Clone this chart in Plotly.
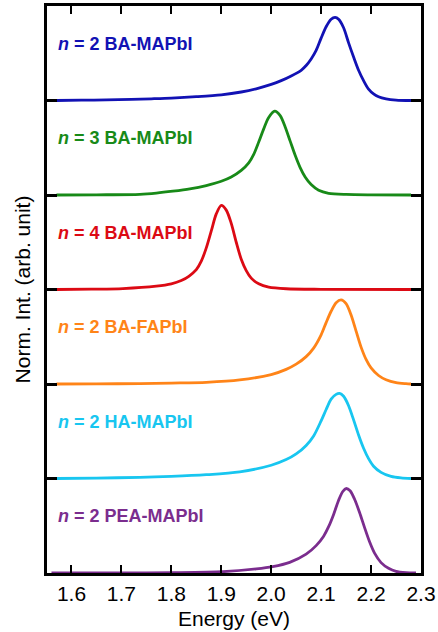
import plotly.graph_objects as go

# ---- data ----
names = ["<b><i>n</i> = 2 BA-MAPbI</b>", "<b><i>n</i> = 3 BA-MAPbI</b>", "<b><i>n</i> = 4 BA-MAPbI</b>",
         "<b><i>n</i> = 2 BA-FAPbI</b>", "<b><i>n</i> = 2 HA-MAPbI</b>", "<b><i>n</i> = 2 PEA-MAPbI</b>"]

blue_x = [1.57, 1.62, 1.67, 1.72, 1.76, 1.80, 1.85, 1.90, 1.94, 1.97, 2.00, 2.02, 2.04, 2.06, 2.07, 2.08,
          2.09, 2.10, 2.11, 2.12, 2.128, 2.135, 2.145, 2.155, 2.165, 2.175, 2.185, 2.195, 2.205, 2.215,
          2.23, 2.25, 2.28]
blue_y = [0.0, 0.003, 0.007, 0.012, 0.018, 0.025, 0.04, 0.06, 0.09, 0.124, 0.17, 0.21, 0.26, 0.32, 0.37, 0.44,
          0.53, 0.66, 0.78, 0.86, 0.88, 0.86, 0.77, 0.61, 0.46, 0.32, 0.21, 0.12, 0.07, 0.04,
          0.018, 0.005, 0.0]

green_x = [1.57, 1.65, 1.737, 1.77, 1.803, 1.837, 1.87, 1.90, 1.92, 1.94, 1.955, 1.965, 1.975, 1.985,
           1.995, 2.007, 2.018, 2.028, 2.038, 2.048, 2.058, 2.068, 2.08, 2.095, 2.115, 2.15, 2.2, 2.28]
green_y = [0.0, 0.002, 0.007, 0.02, 0.04, 0.065, 0.10, 0.145, 0.19, 0.26, 0.34, 0.43, 0.56, 0.70,
           0.82, 0.887, 0.84, 0.72, 0.57, 0.42, 0.29, 0.19, 0.11, 0.05, 0.018, 0.006, 0.002, 0.0]

red_x = [1.57, 1.64, 1.703, 1.77, 1.80, 1.82, 1.835, 1.85, 1.86, 1.87, 1.88, 1.89, 1.90, 1.91, 1.92,
         1.93, 1.94, 1.95, 1.96, 1.975, 1.995, 2.03, 2.1, 2.28]
red_y = [0.0, 0.004, 0.01, 0.035, 0.06, 0.095, 0.14, 0.21, 0.30, 0.44, 0.62, 0.80, 0.89, 0.84, 0.70,
         0.50, 0.32, 0.20, 0.12, 0.06, 0.025, 0.008, 0.002, 0.0]

orange_x = [1.57, 1.65, 1.737, 1.80, 1.87, 1.937, 2.00, 2.03, 2.05, 2.07, 2.085, 2.10, 2.11, 2.12, 2.13,
            2.14, 2.15, 2.16, 2.17, 2.18, 2.19, 2.20, 2.215, 2.23, 2.25, 2.27, 2.28]
orange_y = [0.0, 0.002, 0.004, 0.01, 0.018, 0.043, 0.10, 0.155, 0.21, 0.29, 0.38, 0.52, 0.65, 0.77, 0.86,
            0.89, 0.85, 0.73, 0.56, 0.39, 0.26, 0.17, 0.09, 0.045, 0.014, 0.003, 0.0]

cyan_x = [1.57, 1.65, 1.737, 1.80, 1.87, 1.937, 2.00, 2.03, 2.05, 2.07, 2.085, 2.10, 2.11, 2.12, 2.13,
          2.137, 2.145, 2.155, 2.165, 2.175, 2.185, 2.195, 2.205, 2.22, 2.24, 2.26, 2.28]
cyan_y = [0.0, 0.005, 0.012, 0.022, 0.04, 0.07, 0.14, 0.20, 0.26, 0.35, 0.45, 0.61, 0.73, 0.84, 0.89,
          0.90, 0.87, 0.77, 0.62, 0.46, 0.32, 0.21, 0.13, 0.065, 0.022, 0.006, 0.0]

purple_x = [1.56, 1.70, 1.803, 1.903, 1.97, 2.003, 2.037, 2.07, 2.09, 2.105, 2.115, 2.125, 2.135, 2.143,
            2.15, 2.158, 2.167, 2.177, 2.187, 2.197, 2.207, 2.22, 2.235, 2.25, 2.27, 2.29]
purple_y = [0.0, 0.001, 0.004, 0.014, 0.043, 0.067, 0.113, 0.20, 0.29, 0.39, 0.49, 0.62, 0.77, 0.86,
            0.894, 0.87, 0.78, 0.64, 0.48, 0.33, 0.21, 0.11, 0.05, 0.018, 0.004, 0.0]

xs = [blue_x, green_x, red_x, orange_x, cyan_x, purple_x]
ys = [blue_y, green_y, red_y, orange_y, cyan_y, purple_y]
offsets = [5, 4, 3, 2, 1, 0]
colors = ["#1212B4", "#188A18", "#DC0A14", "#FF8418", "#18C6F0", "#7B2D8E"]

x_ticks = [1.6, 1.7, 1.8, 1.9, 2.0, 2.1, 2.2, 2.3]
x_ticktext = ["1.6", "1.7", "1.8", "1.9", "2.0", "2.1", "2.2", "2.3"]

FONT = "Liberation Sans, Arial, sans-serif"

fig = go.Figure()
for x, y, off, c in zip(xs, ys, offsets, colors):
    fig.add_trace(go.Scatter(x=x, y=[v + off for v in y], mode="lines",
                             line=dict(color=c, width=2.8, shape="spline", smoothing=0.8),
                             showlegend=False, hoverinfo="skip"))

for name, off, c in zip(names, offsets, colors):
    fig.add_annotation(x=1.57, y=off + 0.6, xref="x", yref="y", text=name, showarrow=False,
                       xanchor="left", yanchor="middle",
                       font=dict(family=FONT, size=18, color=c))

fig.update_xaxes(range=[1.551, 2.30], tickvals=x_ticks, ticktext=x_ticktext,
                 ticks="inside", ticklen=8, tickwidth=2, tickcolor="black",
                 showline=True, linecolor="black", linewidth=2.5, mirror="ticks",
                 showgrid=False, zeroline=False,
                 tickfont=dict(family=FONT, size=21, color="black"),
                 title=dict(text="Energy (eV)", font=dict(family=FONT, size=21, color="black"), standoff=8),
                 automargin=False)
fig.update_yaxes(range=[0, 6], tickvals=[1, 2, 3, 4, 5], showticklabels=False,
                 ticks="inside", ticklen=10, tickwidth=2.5, tickcolor="black",
                 showline=True, linecolor="black", linewidth=2.5, mirror="ticks",
                 showgrid=False, zeroline=False,
                 title=dict(text="Norm. Int. (arb. unit)", font=dict(family=FONT, size=21, color="black"), standoff=8),
                 automargin=False)

fig.update_layout(width=438, height=632, margin=dict(l=47, r=17, t=6, b=59),
                  plot_bgcolor="white", paper_bgcolor="white")

fig.write_html("out.html")
